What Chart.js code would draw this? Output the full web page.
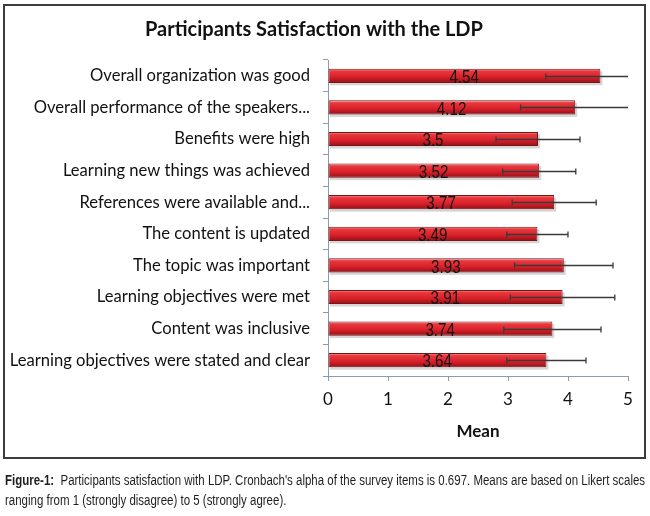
<!DOCTYPE html>
<html>
<head>
<meta charset="utf-8">
<script src="https://cdn.jsdelivr.net/npm/chart.js@4.4.1/dist/chart.umd.min.js"></script>
<style>
  html, body { margin: 0; padding: 0; background: #ffffff; }
  body { width: 650px; height: 516px; position: relative; overflow: hidden; }
  #wrap { position: absolute; left: 0; top: 0; width: 650px; height: 462px; }
  #frame { position: absolute; left: 3px; top: 4px; width: 639px; height: 451px;
           border: 2px solid #3c3c3c; pointer-events: none; }
  #caption { position: absolute; left: 5px; top: 470px; width: 800px; white-space: nowrap;
             font-family: "Liberation Sans", Arial, sans-serif;
             font-size: 14px; line-height: 20px; color: #1e1e1e;
             transform: scaleX(0.82); transform-origin: 0 0; }
  #caption b { font-weight: bold; }
</style>
</head>
<body>
<div id="wrap"><canvas id="c" width="650" height="462"></canvas></div>
<div id="frame"></div>
<div id="caption"><b>Figure-1:</b>&nbsp; Participants satisfaction with LDP. Cronbach's alpha of the survey items is 0.697. Means are based on Likert scales<br>ranging from 1 (strongly disagree) to 5 (strongly agree).</div>
<script>
const categories = [
  "Overall organization was good",
  "Overall performance of the speakers...",
  "Benefits were high",
  "Learning new things was achieved",
  "References were available and...",
  "The content is updated",
  "The topic was important",
  "Learning objectives were met",
  "Content was inclusive",
  "Learning objectives were stated and clear"
];
const means = [4.54, 4.12, 3.5, 3.52, 3.77, 3.49, 3.93, 3.91, 3.74, 3.64];
const sds = [0.91, 0.91, 0.70, 0.61, 0.70, 0.51, 0.82, 0.87, 0.81, 0.66];
const xTicks = [0, 1, 2, 3, 4, 5];
const chartTitle = "Participants Satisfaction with the LDP";
const xTitle = "Mean";

const axisColor = "#8e9ca8";
const labelFont = "Lato";

function barGradient(ctx) {
  const chart = ctx.chart;
  const ys = chart.scales && chart.scales.y;
  if (!chart.chartArea || !ys || ctx.dataIndex === undefined) return "#d9232b";
  const yc = ys.getPixelForValue(ctx.dataIndex);
  const h = 14;
  const g = chart.ctx.createLinearGradient(0, yc - h / 2, 0, yc + h / 2);
  g.addColorStop(0, "#f39a9a");
  g.addColorStop(0.18, "#e8383d");
  g.addColorStop(0.6, "#d8202a");
  g.addColorStop(1, "#921217");
  return g;
}

const extras = {
  id: "extras",
  beforeDatasetsDraw(chart) {
    const c = chart.ctx, xs = chart.scales.x, ys = chart.scales.y;
    c.save();
    c.fillStyle = "rgba(0,0,0,0.16)";
    means.forEach((v, i) => {
      const yc = ys.getPixelForValue(i);
      const x0 = xs.getPixelForValue(0), x1 = xs.getPixelForValue(v);
      c.fillRect(x0 + 2, yc - 7 + 2.5, x1 - x0, 14);
    });
    c.restore();
  },
  afterDatasetsDraw(chart) {
    const c = chart.ctx, xs = chart.scales.x, ys = chart.scales.y;
    c.save();
    c.font = "19px 'Liberation Sans', Arial, sans-serif";
    c.fillStyle = "#141414";
    c.textAlign = "center";
    c.textBaseline = "middle";
    const sx = 0.8;
    means.forEach((v, i) => {
      const yc = ys.getPixelForValue(i);
      const x = xs.getPixelForValue(v / 2);
      c.save();
      c.translate(x, yc + 2);
      c.scale(sx, 1);
      c.fillText(String(v), 0, 0);
      c.restore();
    });
    c.strokeStyle = "#3a3a3a";
    c.lineWidth = 1.3;
    const maxV = xs.max;
    means.forEach((v, i) => {
      const yc = Math.round(ys.getPixelForValue(i)) + 0.5;
      const lo = Math.max(0, v - sds[i]);
      const hiRaw = v + sds[i];
      const hi = Math.min(maxV, hiRaw);
      const xl = xs.getPixelForValue(lo), xh = xs.getPixelForValue(hi);
      c.beginPath();
      c.moveTo(xl, yc); c.lineTo(xh, yc);
      c.moveTo(xl, yc - 3); c.lineTo(xl, yc + 3);
      if (hiRaw <= maxV) { c.moveTo(xh, yc - 3); c.lineTo(xh, yc + 3); }
      c.stroke();
    });
    c.restore();
  }
};

new Chart(document.getElementById("c"), {
  type: "bar",
  data: {
    labels: categories,
    datasets: [{
      data: means,
      backgroundColor: barGradient,
      borderColor: "#7a1515",
      borderWidth: 1,
      borderSkipped: false,
      barPercentage: 0.45,
      categoryPercentage: 1.0
    }]
  },
  options: {
    indexAxis: "y",
    responsive: false,
    animation: false,
    devicePixelRatio: 1,
    layout: { padding: { left: 0, right: 22, top: 0, bottom: 0 } },
    plugins: {
      legend: { display: false },
      tooltip: { enabled: false },
      title: {
        display: true,
        text: chartTitle,
        color: "#111",
        font: { family: labelFont, size: 20, weight: "bold" },
        padding: { top: 18, bottom: 18 }
      }
    },
    scales: {
      x: {
        min: 0, max: 5,
        afterBuildTicks(s) { s.ticks = xTicks.map(v => ({ value: v })); },
        afterFit(s) { s.height = 86; },
        grid: { drawOnChartArea: false, drawTicks: true, tickLength: 5, color: axisColor },
        border: { display: true, color: axisColor, width: 1 },
        ticks: { color: "#111", padding: 8, font: { family: labelFont, size: 17 } },
        title: { display: true, text: xTitle, color: "#111",
                 font: { family: labelFont, size: 17, weight: "bold" },
                 padding: { top: 0, bottom: 20 } }
      },
      y: {
        afterFit(s) { s.width = 328; },
        grid: { drawOnChartArea: false, drawTicks: true, tickLength: 5, color: axisColor, offset: true },
        border: { display: true, color: axisColor, width: 1 },
        ticks: { color: "#111", padding: 13, autoSkip: false, font: { family: labelFont, size: 16.6 } }
      }
    }
  },
  plugins: [extras]
});
</script>
</body>
</html>
